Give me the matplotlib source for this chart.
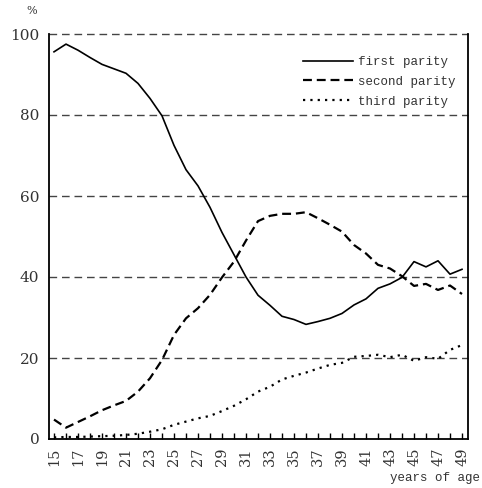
import matplotlib
matplotlib.use("Agg")
import matplotlib.pyplot as plt
from matplotlib.ticker import MultipleLocator

ages = list(range(15, 50))
first_parity = [95.6, 97.5, 96.0, 94.2, 92.5, 91.4, 90.3, 87.8, 84.1, 79.8,
                72.5, 66.5, 62.5, 57.2, 51.0, 45.5, 40.0, 35.5, 33.0, 30.3,
                29.5, 28.3, 29.0, 29.8, 31.0, 33.1, 34.6, 37.2, 38.3, 39.9,
                43.8, 42.5, 44.0, 40.7, 41.9]
second_parity = [4.8, 2.8, 4.2, 5.6, 7.1, 8.3, 9.4, 11.7, 15.0, 19.5,
                 25.7, 29.8, 32.3, 35.6, 39.9, 43.8, 49.0, 53.8, 55.1, 55.6,
                 55.6, 56.0, 54.5, 52.9, 51.2, 47.9, 45.8, 43.0, 42.1, 40.2,
                 37.8, 38.3, 36.8, 37.9, 35.8]
third_parity = [0.4, 0.5, 0.5, 0.6, 0.7, 0.8, 1.0, 1.3, 1.8, 2.4,
                3.5, 4.3, 5.1, 5.7, 6.9, 8.2, 9.8, 11.7, 12.9, 14.7,
                15.6, 16.4, 17.4, 18.3, 18.8, 20.3, 20.5, 20.8, 20.2, 20.8,
                19.3, 20.2, 19.8, 22.0, 23.2]
series_labels = ["first parity", "second parity", "third parity"]
y_ticks = [0, 20, 40, 60, 80, 100]
x_tick_labels = list(range(15, 50, 2))

W, H = 482, 488
fig = plt.figure(figsize=(W / 100, H / 100), dpi=100)
ax = fig.add_axes([49 / W, 1 - 439 / H, (468 - 49) / W, (439 - 34) / H])

serif = "DejaVu Serif"
mono = "Liberation Mono"

# grid lines
for yv in y_ticks[1:]:
    ax.axhline(yv, color="#444444", lw=1.0, dashes=(5.5, 3.5), zorder=1, clip_on=False)

l1, = ax.plot(ages, first_parity, color="black", lw=1.2, label=series_labels[0], zorder=3)
l2, = ax.plot(ages, second_parity, color="black", lw=1.6, dashes=(4, 2.2), label=series_labels[1], zorder=3)
l3, = ax.plot(ages, third_parity, color="black", lw=1.6, dashes=(1, 2.3), label=series_labels[2], zorder=3)

ax.set_xlim(14.583, 49.5)
ax.set_ylim(0, 100)

ax.spines["top"].set_visible(False)
for s in ["left", "right", "bottom"]:
    ax.spines[s].set_linewidth(1.3)
    ax.spines[s].set_color("black")

ax.set_yticks(y_ticks)
ax.set_yticklabels([str(v) for v in y_ticks], fontfamily=serif, fontsize=11, color="#333333")
ax.tick_params(axis="y", length=0, pad=7)

ax.set_xticks(x_tick_labels)
ax.set_xticklabels([str(v) for v in x_tick_labels], rotation=90, fontfamily=serif,
                   fontsize=10.5, color="#333333")
ax.xaxis.set_minor_locator(MultipleLocator(1))
ax.tick_params(axis="x", which="both", direction="in", length=4, width=1, pad=6)

fig.text(32 / W, 1 - 11 / H, "%", ha="center", va="center", fontfamily=serif, fontsize=8, color="#333333")
fig.text(480 / W, 1 - 478 / H, "years of age", ha="right", va="center", fontfamily=mono,
         fontsize=9, color="#333333")

leg = ax.legend(handles=[l1, l2, l3], loc="upper left",
                bbox_to_anchor=(303 / W, 1 - 56 / H), bbox_transform=fig.transFigure,
                frameon=False, prop={"family": mono, "size": 9},
                handlelength=4.0, handletextpad=0.4, labelspacing=0.62,
                borderpad=0, borderaxespad=0)
for t in leg.get_texts():
    t.set_color("#333333")

fig.savefig("out.png", dpi=100)
